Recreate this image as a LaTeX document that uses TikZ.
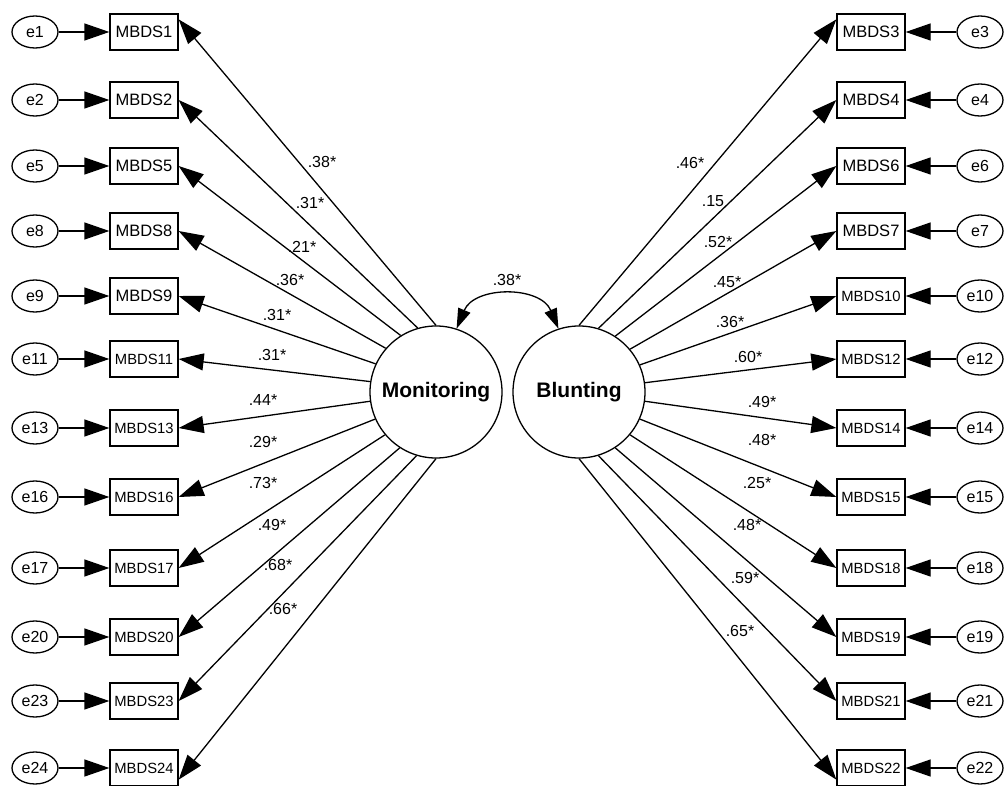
\documentclass[tikz,border=0pt]{standalone}
\usepackage{fontspec}
\setmainfont{Liberation Sans}
\usepackage{tikz}
\usetikzlibrary{arrows.meta}
\usetikzlibrary{shapes.geometric}

\begin{document}
\begin{tikzpicture}[x=1pt,y=-1pt,
    obs/.style={draw, line width=1.3pt, minimum width=68pt, minimum height=36pt, inner sep=0pt, font=\fontsize{16.5}{18}\selectfont},
    obst/.style={obs, font=\fontsize{14.8}{16}\selectfont},
    err/.style={draw, ellipse, line width=1.3pt, minimum width=46pt, minimum height=32pt, inner sep=0pt, font=\fontsize{16}{18}\selectfont},
    lat/.style={draw, circle, line width=1.3pt, minimum size=132pt, inner sep=0pt, font=\bfseries\fontsize{21}{24}\selectfont},
    reg/.style={line width=1.3pt, -{Triangle[length=25pt,width=17pt]}},
    cov/.style={line width=1.3pt, {Triangle[length=20pt,width=13pt]}-{Triangle[length=20pt,width=13pt]}},
    coef/.style={font=\fontsize{16}{18}\selectfont, inner sep=0pt}]
     \fill[white] (0,0) rectangle (1004,786);
     \useasboundingbox (0,0) rectangle (1004,786);

     % latent factors
     \node[lat] (mon) at (436,392) {Monitoring};
     \node[lat] (blu) at (579,392) {Blunting};
     \draw[cov] (mon.72) .. controls +(18,-43) and +(-18,-43) .. (blu.108) node[coef] (c0) at (507,280) {.38*};

     % monitoring items
     \node[obs] (m1) at (144,32) {MBDS1};     \node[err] (e1) at (35,32) {e1};
     \node[obs] (m2) at (144,100) {MBDS2};    \node[err] (e2) at (35,100) {e2};
     \node[obs] (m5) at (144,166) {MBDS5};    \node[err] (e5) at (35,166) {e5};
     \node[obs] (m8) at (144,231) {MBDS8};    \node[err] (e8) at (35,231) {e8};
     \node[obs] (m9) at (144,296) {MBDS9};    \node[err] (e9) at (35,296) {e9};
     \node[obst] (m11) at (144,359) {MBDS11}; \node[err] (e11) at (35,359) {e11};
     \node[obst] (m13) at (144,428) {MBDS13}; \node[err] (e13) at (35,428) {e13};
     \node[obst] (m16) at (144,497) {MBDS16}; \node[err] (e16) at (35,497) {e16};
     \node[obst] (m17) at (144,568) {MBDS17}; \node[err] (e17) at (35,568) {e17};
     \node[obst] (m20) at (144,637) {MBDS20}; \node[err] (e20) at (35,637) {e20};
     \node[obst] (m23) at (144,701) {MBDS23}; \node[err] (e23) at (35,701) {e23};
     \node[obst] (m24) at (144,768) {MBDS24}; \node[err] (e24) at (35,768) {e24};

     % blunting items
     \node[obs] (m3) at (871,32) {MBDS3};     \node[err] (e3) at (980,32) {e3};
     \node[obs] (m4) at (871,100) {MBDS4};    \node[err] (e4) at (980,100) {e4};
     \node[obs] (m6) at (871,166) {MBDS6};    \node[err] (e6) at (980,166) {e6};
     \node[obs] (m7) at (871,231) {MBDS7};    \node[err] (e7) at (980,231) {e7};
     \node[obst] (m10) at (871,296) {MBDS10}; \node[err] (e10) at (980,296) {e10};
     \node[obst] (m12) at (871,359) {MBDS12}; \node[err] (e12) at (980,359) {e12};
     \node[obst] (m14) at (871,428) {MBDS14}; \node[err] (e14) at (980,428) {e14};
     \node[obst] (m15) at (871,497) {MBDS15}; \node[err] (e15) at (980,497) {e15};
     \node[obst] (m18) at (871,568) {MBDS18}; \node[err] (e18) at (980,568) {e18};
     \node[obst] (m19) at (871,637) {MBDS19}; \node[err] (e19) at (980,637) {e19};
     \node[obst] (m21) at (871,701) {MBDS21}; \node[err] (e21) at (980,701) {e21};
     \node[obst] (m22) at (871,768) {MBDS22}; \node[err] (e22) at (980,768) {e22};

     % errors
     \draw[reg] (e1) -- (m1);   \draw[reg] (e2) -- (m2);   \draw[reg] (e5) -- (m5);
     \draw[reg] (e8) -- (m8);   \draw[reg] (e9) -- (m9);   \draw[reg] (e11) -- (m11);
     \draw[reg] (e13) -- (m13); \draw[reg] (e16) -- (m16); \draw[reg] (e17) -- (m17);
     \draw[reg] (e20) -- (m20); \draw[reg] (e23) -- (m23); \draw[reg] (e24) -- (m24);
     \draw[reg] (e3) -- (m3);   \draw[reg] (e4) -- (m4);   \draw[reg] (e6) -- (m6);
     \draw[reg] (e7) -- (m7);   \draw[reg] (e10) -- (m10); \draw[reg] (e12) -- (m12);
     \draw[reg] (e14) -- (m14); \draw[reg] (e15) -- (m15); \draw[reg] (e18) -- (m18);
     \draw[reg] (e19) -- (m19); \draw[reg] (e21) -- (m21); \draw[reg] (e22) -- (m22);

     % loadings, monitoring
     \draw[reg] (mon.90) -- ([yshift=-6pt]m1.north east) node[coef] (c1) at (322,162) {.38*};
     \draw[reg] (mon.106.4) -- (m2.east) node[coef] (c2) at (310,203) {.31*};
     \draw[reg] (mon.122.7) -- (m5.east) node[coef] (c5) at (302,247) {.21*};
     \draw[reg] (mon.139.1) -- (m8.east) node[coef] (c8) at (290,280) {.36*};
     \draw[reg] (mon.155.5) -- (m9.east) node[coef] (c9) at (277,315) {.31*};
     \draw[reg] (mon.171.8) -- (m11.east) node[coef] (c11) at (272,355) {.31*};
     \draw[reg] (mon.188.2) -- (m13.east) node[coef] (c13) at (263,400) {.44*};
     \draw[reg] (mon.204.5) -- (m16.east) node[coef] (c16) at (263,442) {.29*};
     \draw[reg] (mon.220.9) -- (m17.east) node[coef] (c17) at (263,483) {.73*};
     \draw[reg] (mon.237.3) -- (m20.east) node[coef] (c20) at (272,525) {.49*};
     \draw[reg] (mon.253.6) -- (m23.east) node[coef] (c23) at (278,565) {.68*};
     \draw[reg] (mon.270) -- ([yshift=7pt]m24.south east) node[coef] (c24) at (283,609) {.66*};

     % loadings, blunting
     \draw[reg] (blu.90) -- ([yshift=-6pt]m3.north west) node[coef] (c3) at (690,163) {.46*};
     \draw[reg] (blu.73.6) -- (m4.west) node[coef] (c4) at (713,201) {.15};
     \draw[reg] (blu.57.3) -- (m6.west) node[coef] (c6) at (718,242) {.52*};
     \draw[reg] (blu.40.9) -- (m7.west) node[coef] (c7) at (727,282) {.45*};
     \draw[reg] (blu.24.5) -- (m10.west) node[coef] (c10) at (730,322) {.36*};
     \draw[reg] (blu.8.2) -- (m12.west) node[coef] (c12) at (748,357) {.60*};
     \draw[reg] (blu.-8.2) -- (m14.west) node[coef] (c14) at (762,402) {.49*};
     \draw[reg] (blu.-24.5) -- (m15.west) node[coef] (c15) at (762,440) {.48*};
     \draw[reg] (blu.-40.9) -- (m18.west) node[coef] (c18) at (757,483) {.25*};
     \draw[reg] (blu.-57.3) -- (m19.west) node[coef] (c19) at (747,525) {.48*};
     \draw[reg] (blu.-73.6) -- (m21.west) node[coef] (c21) at (745,578) {.59*};
     \draw[reg] (blu.-90) -- ([yshift=7pt]m22.south west) node[coef] (c22) at (740,631) {.65*};
\end{tikzpicture}
\end{document}
